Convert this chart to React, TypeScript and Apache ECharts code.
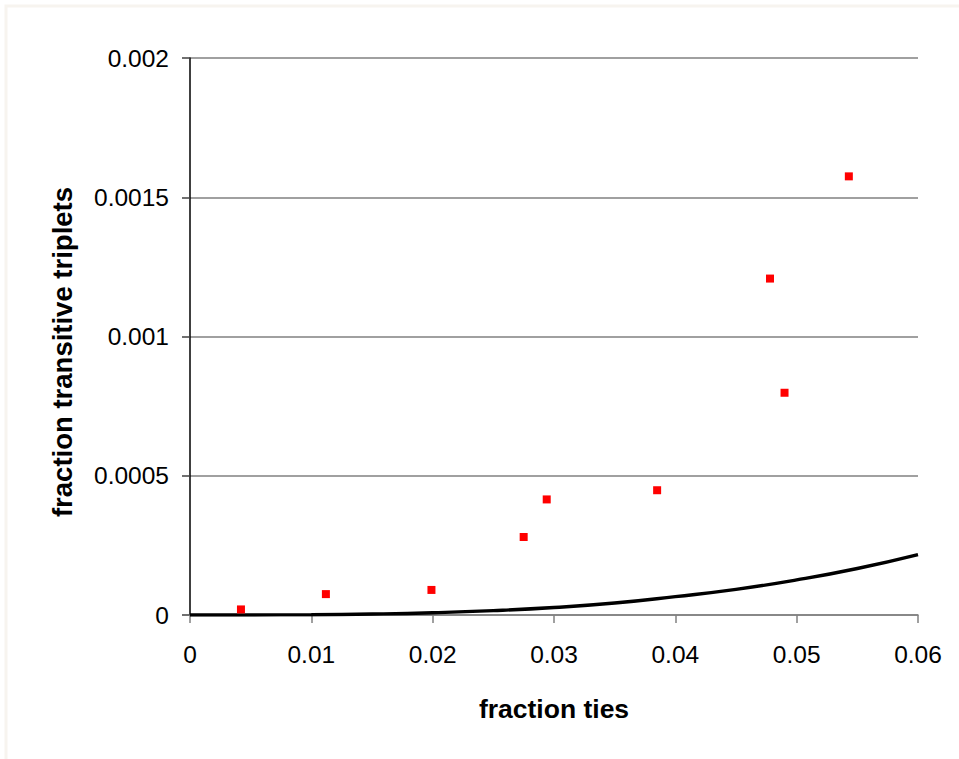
import React, { useEffect, useRef } from "react";
import * as echarts from "echarts";

const xTicks = [0, 0.01, 0.02, 0.03, 0.04, 0.05, 0.06];
const yTicks = [0, 0.0005, 0.001, 0.0015, 0.002];

const observedX = [0.0042, 0.0112, 0.0199, 0.0275, 0.0294, 0.0385, 0.0478, 0.049, 0.0543];
const observedY = [0.00002, 0.000075, 0.00009, 0.00028, 0.000415, 0.000448, 0.001208, 0.000798, 0.001575];

const curveX = [0, 0.005, 0.01, 0.015, 0.02, 0.025, 0.03, 0.035, 0.04, 0.045, 0.05, 0.055, 0.06];
const curveY = [0, 0.0000001, 0.000001, 0.0000034, 0.000008, 0.0000157, 0.000027, 0.000043, 0.000066, 0.000092, 0.000126, 0.000167, 0.000217];

const yTitle = "fraction transitive triplets";

export default function App() {
  const ref = useRef<HTMLDivElement>(null);
  useEffect(() => {
    if (!ref.current) return;
    const chart = echarts.init(ref.current, null, { renderer: "svg" });
    const font = "'Liberation Sans', Arial, sans-serif";
    chart.setOption({
      animation: false,
      backgroundColor: "#ffffff",
      graphic: [
        {
          type: "rect",
          shape: { x: 6, y: 6, width: 960, height: 760 },
          style: { fill: "none", stroke: "#f7f4ef", lineWidth: 3 },
          silent: true,
        },
        {
          type: "text",
          x: 62,
          y: 352,
          rotation: Math.PI / 2,
          style: {
            text: yTitle,
            fontFamily: font,
            fontSize: 27.5,
            fontWeight: "bold",
            fill: "#000",
            align: "center",
            verticalAlign: "middle",
          },
          silent: true,
        },
      ],
      grid: { left: 190, right: 41, top: 58, bottom: 144, containLabel: false },
      xAxis: {
        type: "value",
        min: xTicks[0],
        max: xTicks[xTicks.length - 1],
        interval: 0.01,
        name: "fraction ties",
        nameLocation: "middle",
        nameGap: 80,
        nameTextStyle: { fontFamily: font, fontSize: 26.5, fontWeight: "bold", color: "#000" },
        axisLine: { show: true, onZero: false, lineStyle: { color: "#808080", width: 1.5 } },
        axisTick: { show: true, inside: false, length: 8, lineStyle: { color: "#808080", width: 1.5 } },
        splitLine: { show: false },
        axisLabel: {
          fontFamily: font,
          fontSize: 24.5,
          color: "#000",
          margin: 27,
          formatter: (v: number) => String(parseFloat(v.toFixed(4))),
        },
      },
      yAxis: {
        type: "value",
        min: yTicks[0],
        max: yTicks[yTicks.length - 1],
        interval: 0.0005,
        axisLine: { show: true, lineStyle: { color: "#000", width: 1.5 } },
        axisTick: { show: true, inside: false, length: 8, lineStyle: { color: "#404040", width: 1.5 } },
        splitLine: { show: true, lineStyle: { color: "#808080", width: 1.6 } },
        axisLabel: {
          fontFamily: font,
          fontSize: 24.5,
          color: "#000",
          margin: 21,
          formatter: (v: number) => String(parseFloat(v.toFixed(5))),
        },
      },
      series: [
        {
          type: "line",
          data: curveX.map((x, i) => [x, curveY[i]]),
          showSymbol: false,
          symbol: "none",
          smooth: true,
          lineStyle: { color: "#000", width: 3.4 },
          z: 3,
        },
        {
          type: "scatter",
          data: observedX.map((x, i) => [x, observedY[i]]),
          symbol: "rect",
          symbolSize: 8,
          itemStyle: { color: "#ff0000", opacity: 1 },
          z: 4,
        },
      ],
    });
    return () => chart.dispose();
  }, []);
  return (
    <div
      ref={ref}
      style={{ position: "fixed", left: 0, top: 0, width: 959, height: 759 }}
    />
  );
}
